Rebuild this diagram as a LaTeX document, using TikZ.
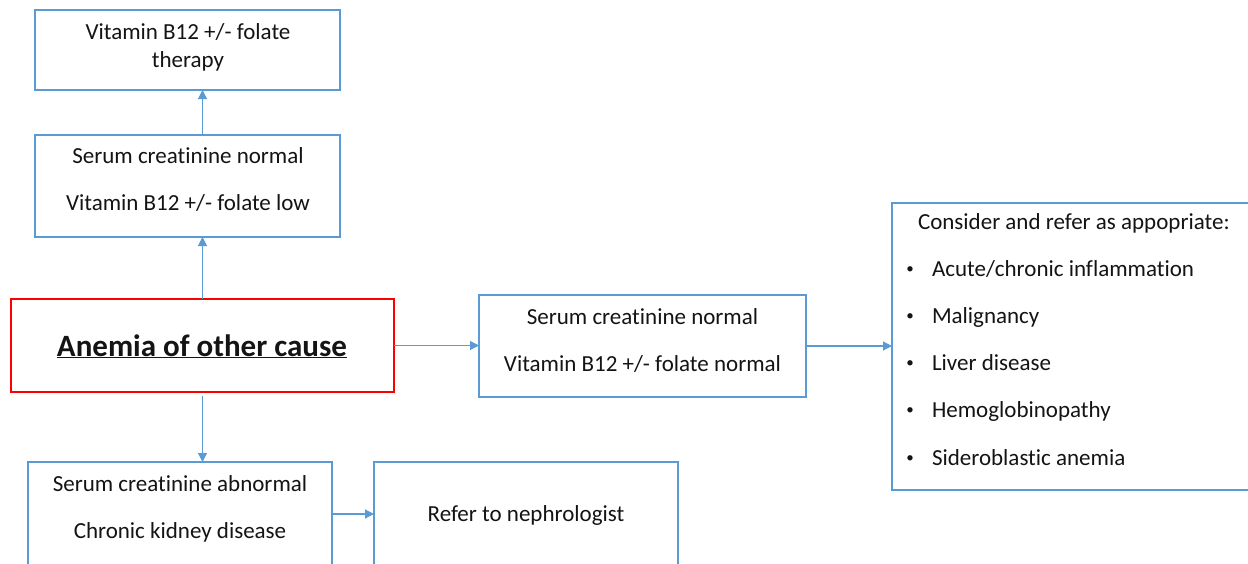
\documentclass[tikz,border=0pt]{standalone}
\usepackage{fontspec}
\setmainfont{Carlito}[Ligatures=CommonOff]
\usetikzlibrary{arrows.meta}
\definecolor{boxblue}{RGB}{91,155,213}
\definecolor{boxred}{RGB}{255,0,0}
\definecolor{txt}{RGB}{20,20,20}
\tikzset{
  box/.style={draw=boxblue, line width=1.8pt, inner sep=0pt, outer sep=0pt, fill=white},
  redbox/.style={draw=boxred, line width=1.8pt, inner sep=0pt, outer sep=0pt, fill=white},
  lbl/.style={inner sep=0pt, outer sep=0pt, text=txt, font=\fontsize{23}{27}\selectfont, anchor=base},
  lblw/.style={lbl, anchor=base west},
  conn/.style={draw=boxblue, line width=1.1pt, -{Triangle[length=9pt,width=9pt]}}
}
\begin{document}
\begin{tikzpicture}[x=1pt,y=-1pt]
\useasboundingbox (0,0) rectangle (1248,563);
\clip (0,0) rectangle (1248,563);
\fill[white] (0,0) rectangle (1248,563);
% boxes
\node[box, minimum width=305pt, minimum height=80pt] (b1) at (187.5,50) {};
\node[box, minimum width=305pt, minimum height=102pt] (b2) at (187.5,186) {};
\node[redbox, minimum width=383pt, minimum height=93pt] (red) at (202.5,345.5) {};
\node[box, minimum width=327pt, minimum height=102pt] (mid) at (642.5,346) {};
\node[box, minimum width=398pt, minimum height=287pt] (right) at (1091,346.5) {};
\node[box, minimum width=304pt, minimum height=110pt] (bl) at (180,517) {};
\node[box, minimum width=304pt, minimum height=110pt] (br) at (526,517) {};
% texts
\node[lbl] (t1a) at (188,39) {Vitamin B12 +/- folate};
\node[lbl] (t1b) at (188,67) {therapy};
\node[lbl] (t2a) at (188,163) {Serum creatinine normal};
\node[lbl] (t2b) at (188,210) {Vitamin B12 +/- folate low};
\node[lbl, font=\fontsize{31}{36}\selectfont\bfseries] (tr) at (202,356) {\underline{Anemia of other cause}};
\node[lbl] (tma) at (642.5,324) {Serum creatinine normal};
\node[lbl] (tmb) at (642.5,371) {Vitamin B12 +/- folate normal};
\node[lblw] (rh) at (918,229) {Consider and refer as appopriate:};
\foreach \i/\t/\yy in {1/Acute\slash chronic inflammation/276, 2/Malignancy/323, 3/Liver disease/370, 4/Hemoglobinopathy/417, 5/Sideroblastic anemia/465}{
  \node[lbl, font=\fontsize{15}{18}\selectfont] (rb\i) at (910,\yy-3) {\textbullet};
  \node[lblw] (ri\i) at (932,\yy) {\t};
}
\node[lbl] (tbla) at (180,491) {Serum creatinine abnormal};
\node[lbl] (tblb) at (180,538) {Chronic kidney disease};
\node[lbl] (tbr) at (526,521) {Refer to nephrologist};
% connectors
\draw[conn] (red.north) -- (red.north |- b2.south);
\draw[conn] (red.north |- b2.north) -- (red.north |- b1.south);
\draw[conn] (red.east) -- (red.east -| mid.west);
\draw[conn] (mid.east) -- (mid.east -| right.west);
\draw[conn, shorten <=4pt] (red.south) -- (red.south |- bl.north);
\draw[conn] (bl.east |- 0,514) -- (br.west |- 0,514);
\end{tikzpicture}
\end{document}
